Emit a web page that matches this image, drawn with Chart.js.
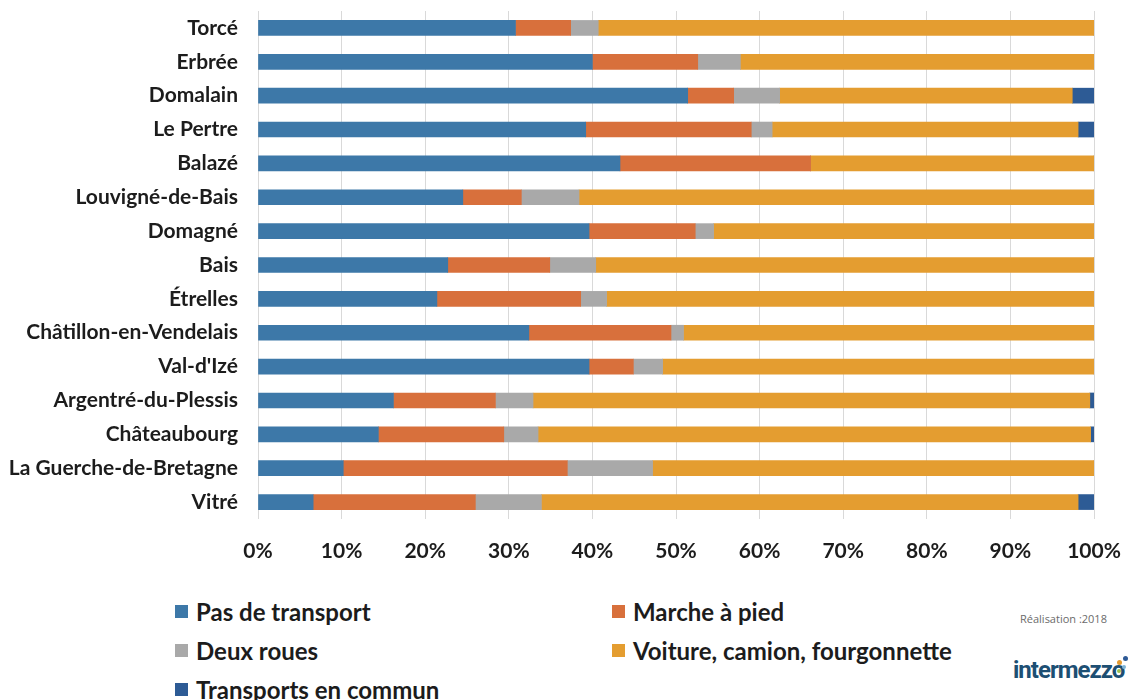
<!DOCTYPE html>
<html lang="fr">
<head>
<meta charset="utf-8">
<title>Mode de transport domicile-travail</title>
<script src="https://cdn.jsdelivr.net/npm/chart.js@4/dist/chart.umd.min.js"></script>
<style>
  html, body { margin: 0; padding: 0; background: #ffffff; }
  body { width: 1130px; height: 700px; position: relative; overflow: hidden; font-family: "Lato", "Liberation Sans", sans-serif; }
  #wrap { position: absolute; left: 0; top: 0; width: 1130px; height: 570px; }
  #legend { position: absolute; left: 175px; top: 598px; width: 840px; display: grid; grid-template-columns: 437px 400px; row-gap: 12px; }
  .item { display: flex; align-items: center; font-weight: 700; font-size: 24px; color: #1c1c1c; height: 27px; }
  .swatch { width: 13px; height: 13px; margin-right: 8px; flex: none; }
  #credit { position: absolute; left: 1020px; top: 611px; font-size: 11px; color: #6b6b6b; font-family: "Open Sans", sans-serif; }
  #logo { position: absolute; left: 1013px; top: 656px; height: 34px; }
  #logo .word { font-family: "Liberation Sans Narrow", "Roboto", sans-serif; font-weight: 700; font-size: 24px; color: #1d4f73; letter-spacing: -1px; }
  #logo .dot { position: absolute; border-radius: 50%; }
</style>
</head>
<body>
<div id="wrap"><canvas id="chart"></canvas></div>
<div id="legend"></div>
<div id="credit">Réalisation :2018</div>
<div id="logo">
  <span class="word">intermezzo</span>
  <span class="dot" style="left:104px;top:4px;width:5px;height:5px;background:#e39a2e"></span>
  <span class="dot" style="left:110px;top:0px;width:5px;height:5px;background:#2e5a96"></span>
  <span class="dot" style="left:109px;top:9px;width:4px;height:4px;background:#7fb3d5"></span>
  <span class="dot" style="left:104px;top:13px;width:4px;height:4px;background:#9bbf4e"></span>
</div>
<script>
// Communes, from top to bottom
const communes = [
  "Torcé", "Erbrée", "Domalain", "Le Pertre", "Balazé", "Louvigné-de-Bais",
  "Domagné", "Bais", "Étrelles", "Châtillon-en-Vendelais", "Val-d'Izé",
  "Argentré-du-Plessis", "Châteaubourg", "La Guerche-de-Bretagne", "Vitré"
];

// Share of commuters (%) by transport mode
const pasDeTransport = [30.8, 40.0, 51.4, 39.2, 43.3, 24.5, 39.6, 22.7, 21.4, 32.4, 39.6, 16.2, 14.4, 10.2, 6.6];
const marcheAPied    = [6.6, 12.6, 5.5, 19.8, 22.8, 7.0, 12.7, 12.2, 17.2, 17.0, 5.3, 12.2, 15.0, 26.8, 19.4];
const deuxRoues      = [3.3, 5.1, 5.5, 2.5, 0.0, 6.9, 2.2, 5.5, 3.1, 1.5, 3.5, 4.5, 4.1, 10.2, 7.9];
const voiture        = [59.3, 42.3, 35.0, 36.6, 33.9, 61.6, 45.5, 59.6, 58.3, 49.1, 51.6, 66.6, 66.1, 52.8, 64.2];
const transportsEnCommun = [0.0, 0.0, 2.6, 1.9, 0.0, 0.0, 0.0, 0.0, 0.0, 0.0, 0.0, 0.5, 0.4, 0.0, 1.9];

// Axis tick labels
const tickLabels = ["0%", "10%", "20%", "30%", "40%", "50%", "60%", "70%", "80%", "90%", "100%"];

const seriesNames = ["Pas de transport", "Marche à pied", "Deux roues", "Voiture, camion, fourgonnette", "Transports en commun"];
const seriesColors = ["#3d78a8", "#d8703c", "#a9a9a9", "#e49d30", "#2d5b95"];
const seriesValues = [pasDeTransport, marcheAPied, deuxRoues, voiture, transportsEnCommun];

const FONT = "Lato, 'Liberation Sans', sans-serif";

const datasets = seriesNames.map((name, i) => ({
  label: name,
  data: seriesValues[i],
  backgroundColor: seriesColors[i],
  borderWidth: 0,
  barThickness: 15
}));

const chart = new Chart(document.getElementById("chart"), {
  type: "bar",
  data: { labels: communes, datasets },
  options: {
    indexAxis: "y",
    responsive: true,
    maintainAspectRatio: false,
    animation: false,
    layout: { padding: { top: 11, right: 36, bottom: 0, left: 8 } },
    plugins: { legend: { display: false }, tooltip: { enabled: false } },
    scales: {
      x: {
        stacked: true,
        min: 0,
        max: 100,
        afterFit: (s) => { s.height = 51; s.paddingLeft = 0; s.paddingRight = 0; },
        border: { display: false },
        grid: { color: "#d9d9d9", lineWidth: 1, drawTicks: false },
        ticks: {
          stepSize: 10,
          padding: 20,
          color: "#1c1c1c",
          font: { family: FONT, size: 21, weight: "bold" },
          callback: (v) => tickLabels[Math.round(v / 10)]
        }
      },
      y: {
        stacked: true,
        afterFit: (s) => { s.width = 250; s.paddingTop = 0; s.paddingBottom = 0; },
        border: { display: false },
        grid: { display: false, drawTicks: false },
        ticks: {
          padding: 20,
          color: "#1c1c1c",
          font: { family: FONT, size: 21, weight: "bold" }
        }
      }
    }
  }
});

// Two-column legend built from the chart's datasets
const legend = document.getElementById("legend");
chart.data.datasets.forEach((ds) => {
  const item = document.createElement("div");
  item.className = "item";
  const sw = document.createElement("span");
  sw.className = "swatch";
  sw.style.background = ds.backgroundColor;
  const txt = document.createElement("span");
  txt.textContent = ds.label;
  item.appendChild(sw);
  item.appendChild(txt);
  legend.appendChild(item);
});
</script>
</body>
</html>
